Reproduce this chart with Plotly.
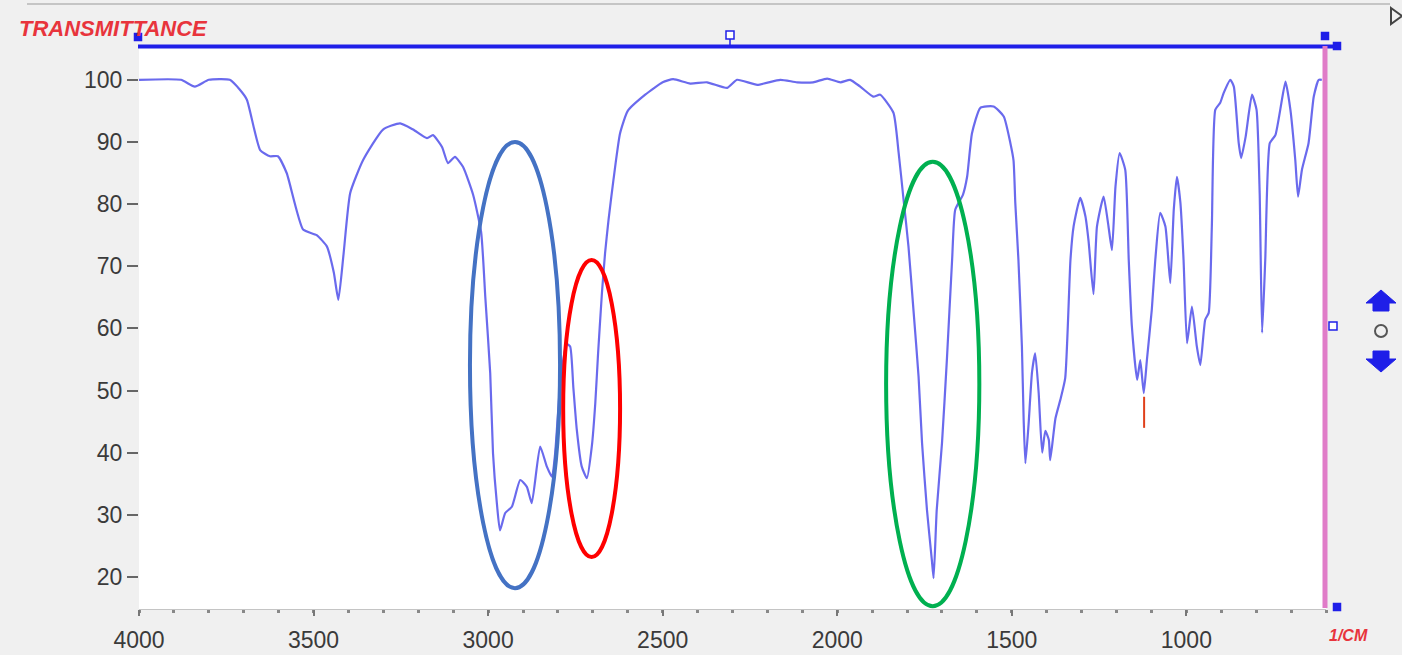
import plotly.graph_objects as go

# ---------------- data ----------------
wavenumber = [4000, 3880, 3840, 3800, 3740, 3711, 3691, 3653, 3625, 3602, 3577, 3530, 3491, 3462, 3442, 3429, 3414,
              3395, 3358, 3301, 3252, 3215, 3175, 3158, 3132, 3115, 3095, 3072, 3043, 3020, 3008, 2994, 2986, 2975,
              2966, 2951, 2932, 2908, 2889, 2875, 2851, 2832, 2817, 2808, 2792, 2775, 2765, 2756, 2746, 2732, 2717,
              2703, 2693, 2685, 2674, 2665, 2655, 2641, 2622, 2600, 2550, 2500, 2470, 2421, 2373, 2315, 2287, 2229,
              2163, 2115, 2069, 2029, 1991, 1963, 1934, 1897, 1877, 1839, 1824, 1810, 1796, 1781, 1767, 1757, 1743,
              1729, 1724, 1715, 1700, 1686, 1671, 1662, 1640, 1628, 1614, 1590, 1552, 1523, 1504, 1495, 1490, 1481,
              1471, 1466, 1461, 1452, 1442, 1433, 1423, 1413, 1404, 1394, 1390, 1375, 1361, 1347, 1332, 1323, 1304,
              1289, 1280, 1266, 1256, 1237, 1223, 1213, 1203, 1191, 1175, 1165, 1156, 1141, 1132, 1122, 1113, 1099,
              1089, 1075, 1060, 1046, 1036, 1027, 1017, 1008, 998, 984, 970, 960, 946, 936, 927, 917, 903, 893, 874,
              864, 850, 843, 830, 812, 799, 790, 783, 774, 761, 745, 731, 716, 702, 688, 680, 669, 650, 635, 621, 612]
transmittance = [100, 100, 98.9, 100, 100, 98.4, 96.8, 88.7, 87.7, 87.7, 85.0, 75.9, 75.0, 73.2, 69, 64.6, 72,
                 81.8, 87.1, 92.0, 93.0, 92.0, 90.6, 91.1, 89.2, 86.6, 87.6, 86.0, 81.5, 75.5, 65, 52.8, 39.9, 31.9,
                 27.5, 30.3, 31.3, 35.6, 34.5, 31.9, 41.0, 37.8, 36.1, 39.9, 52, 57.5, 57.1, 50.6, 43.7, 37.8, 35.9,
                 41.0, 48.0, 56.0, 65.7, 72.1, 77.5, 83.9, 91.4, 95.0, 97.6, 99.6, 100.1, 99.4, 99.6, 98.7, 100, 99.2,
                 100, 99.6, 99.6, 100.2, 99.6, 100, 98.9, 97.3, 97.6, 94.7, 88.2, 80.7, 73.2, 62.5, 52.2, 41.5, 30.8,
                 22.7, 19.8, 30.8, 41.5, 54.9, 71.0, 79.1, 81.5, 84.4, 91.4, 95.5, 95.7, 94.1, 89.8, 87, 80.2, 71,
                 57, 45.3, 38.3, 44.5, 53, 56.0, 49.6, 40, 43.5, 42.1, 38.8, 45.5, 48.5, 52, 71, 76.4, 81,
                 78, 74, 65.5, 76.4, 81.2, 76.4, 72.6, 82.8, 88.2, 85.5, 71, 60.3, 51.7, 54.9, 49.6, 54.9, 63,
                 71, 78.6, 76.4, 67.3, 79.1, 84.4, 80.2, 71, 57.6, 63.5, 57.1, 54.1, 61.4, 62.5, 76.4, 95.2, 96.3, 97.9, 100,
                 98.9, 89.8, 87.4, 90.9, 97.6, 95.2, 81.8, 59.3, 71, 89.8, 91.1, 95.2, 99.7, 95.2, 87.1, 81.2, 85.5, 89.8, 97.3, 100, 100]
assert len(wavenumber) == len(transmittance)

# small highlighted (red) segment of the trace
marker_wn = [1121, 1121]
marker_t = [49, 44]

x_ticks = [4000, 3500, 3000, 2500, 2000, 1500, 1000]
y_ticks = [20, 30, 40, 50, 60, 70, 80, 90, 100]

# highlight ellipses: (wn_high, wn_low, t_low, t_high, colour)
ellipses = [
    (3052, 2794, 18.2, 90.0, "#4472C4"),
    (2785, 2622, 23.2, 71.0, "#FF0000"),
    (1860, 1593, 15.3, 86.8, "#00B050"),
]

# ---------------- layout geometry ----------------
W, H = 1402, 655
L, R, T, B = 139, 76, 45, 46
PX0, PX1 = L, W - R
PY0, PY1 = T, H - B


def px(x):
    return (x - PX0) / (PX1 - PX0)


def py(y):
    return (PY1 - y) / (PY1 - PY0)


fig = go.Figure()
fig.add_trace(go.Scatter(x=wavenumber, y=transmittance, mode="lines",
                         line=dict(color="rgba(90,90,235,0.9)", width=2.2, shape="spline", smoothing=0.5),
                         hoverinfo="skip"))
fig.add_trace(go.Scatter(x=marker_wn, y=marker_t, mode="lines",
                         line=dict(color="#e0401a", width=2), hoverinfo="skip"))

shapes = []
for x0, x1, y0, y1, c in ellipses:
    shapes.append(dict(type="circle", xref="x", yref="y", x0=x0, x1=x1, y0=y0, y1=y1,
                       line=dict(color=c, width=4), layer="above"))

BLUE = "#1f1fe8"
# top blue bar
shapes.append(dict(type="line", xref="paper", yref="paper", x0=px(138), x1=px(1337), y0=py(46.5), y1=py(46.5),
                   line=dict(color=BLUE, width=4)))
# pink vertical bar
shapes.append(dict(type="line", xref="paper", yref="paper", x0=px(1325), x1=px(1325), y0=py(46), y1=py(608),
                   line=dict(color="#e07cc8", width=5)))


def square(cx, cy, s, filled=True, color=BLUE):
    return dict(type="rect", xref="paper", yref="paper", x0=px(cx - s / 2), x1=px(cx + s / 2),
                y0=py(cy + s / 2), y1=py(cy - s / 2), line=dict(color=color, width=1.5),
                fillcolor=color if filled else "white")


shapes += [square(138, 37, 7), square(1325, 36, 7), square(1337, 46, 7), square(1337, 607, 7),
           square(730, 35, 8, filled=False), square(1333, 326, 8, filled=False)]
shapes.append(dict(type="line", xref="paper", yref="paper", x0=px(730), x1=px(730), y0=py(39), y1=py(45),
                   line=dict(color=BLUE, width=1.5)))


def path(points):
    d = "M " + " L ".join(f"{px(a)},{py(b)}" for a, b in points) + " Z"
    return d


# up / down arrows and circle on the right
shapes.append(dict(type="path", xref="paper", yref="paper",
                   path=path([(1381, 290), (1396, 303), (1389, 303), (1389, 311), (1373, 311), (1373, 303), (1366, 303)]),
                   fillcolor=BLUE, line=dict(color=BLUE, width=1)))
shapes.append(dict(type="path", xref="paper", yref="paper",
                   path=path([(1381, 372), (1396, 359), (1389, 359), (1389, 351), (1373, 351), (1373, 359), (1366, 359)]),
                   fillcolor=BLUE, line=dict(color=BLUE, width=1)))
shapes.append(dict(type="circle", xref="paper", yref="paper", x0=px(1375), x1=px(1387), y0=py(337), y1=py(325),
                   line=dict(color="#555", width=2)))
# top-right triangle icon
shapes.append(dict(type="path", xref="paper", yref="paper",
                   path=path([(1391, 8), (1402, 16), (1391, 24)]), line=dict(color="#444", width=2)))
# faint top border
shapes.append(dict(type="line", xref="paper", yref="paper", x0=px(27), x1=px(1390), y0=py(4), y1=py(4),
                   line=dict(color="#9a9a9a", width=1)))

annotations = [
    dict(text="<b><i>TRANSMITTANCE</i></b>", xref="paper", yref="paper", x=px(17), y=py(29),
         xanchor="left", yanchor="middle", showarrow=False,
         font=dict(family="Liberation Sans, Arial", size=22, color="#e8343c")),
    dict(text="<b><i>1/CM</i></b>", xref="paper", yref="paper", x=px(1349), y=py(635),
         xanchor="center", yanchor="middle", showarrow=False,
         font=dict(family="Liberation Sans, Arial", size=16, color="#e8343c")),
]

fig.update_layout(
    width=W, height=H, autosize=False,
    margin=dict(l=L, r=R, t=T, b=B, pad=0, autoexpand=False),
    paper_bgcolor="#f0f0f0", plot_bgcolor="white",
    showlegend=False,
    shapes=shapes, annotations=annotations,
    font=dict(family="Liberation Sans, Arial", color="#3a3a3a"),
    xaxis=dict(range=[4000, 600], tickvals=x_ticks, ticktext=[str(v) for v in x_ticks],
               ticks="outside", ticklen=6, tickwidth=2, tickcolor="#777", automargin=False,
               showline=True, linecolor="#c4c4c4", linewidth=1, showgrid=False, zeroline=False,
               tickfont=dict(size=23, color="#3a3a3a"), ticklabelstandoff=4,
               minor=dict(dtick=100, ticks="outside", ticklen=3, tickwidth=3, tickcolor="#888", showgrid=False)),
    yaxis=dict(range=[14.85, 105.6], tickvals=y_ticks, ticks="outside", ticklen=11, tickwidth=1.5,
               tickcolor="#666", showline=False, showgrid=False, zeroline=False, automargin=False,
               tickfont=dict(size=23, color="#3a3a3a")),
)

fig.write_html("out.html", config={"displayModeBar": False},
               post_script="document.body.style.margin='0';document.body.style.overflow='hidden';")
